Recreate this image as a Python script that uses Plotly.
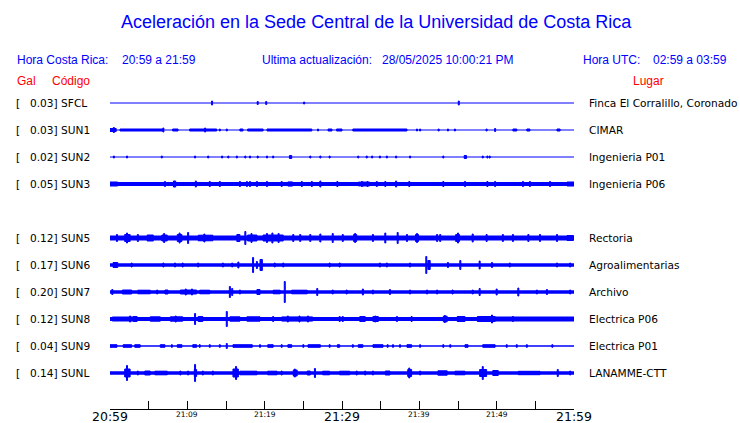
import plotly.graph_objects as go

# ---------------- data ----------------
TITLE = "Aceleración en la Sede Central de la Universidad de Costa Rica"
LOCAL_LABEL = "Hora Costa Rica:"
LOCAL_RANGE = "20:59 a 21:59"
UPDATE_LABEL = "Ultima actualización:"
UPDATE_VALUE = "28/05/2025 10:00:21 PM"
UTC_LABEL = "Hora UTC:"
UTC_RANGE = "02:59 a 03:59"

CODES = ["SFCL", "SUN1", "SUN2", "SUN3", "SUN5", "SUN6", "SUN7", "SUN8", "SUN9", "SUNL"]
PEAK_GAL = [0.03, 0.03, 0.02, 0.05, 0.12, 0.17, 0.20, 0.12, 0.04, 0.14]
PLACES = ["Finca El Corralillo, Coronado", "CIMAR", "Ingenieria P01", "Ingenieria P06",
          "Rectoria", "Agroalimentarias", "Archivo", "Electrica P06", "Electrica P01",
          "LANAMME-CTT"]
SLOTS = [0, 1, 2, 3, 5, 6, 7, 8, 9, 10]          # display row (row 4 is empty)
BASE_AMP = [0.5, 0.5, 0.5, 2.0, 2.5, 1.7, 1.7, 2.0, 0.7, 1.7]   # background noise level

TICK_MINUTES = [0, 5, 10, 15, 20, 25, 30, 35, 40, 45, 50, 55, 60]   # minutes after 20:59
MAJOR_LABELS = {0: "20:59", 30: "21:29", 60: "21:59"}
MINOR_LABELS = {10: "21:09", 20: "21:19", 40: "21:39", 50: "21:49"}

# bursts: (start minute, end minute, amplitude)
BURSTS_SFCL = [(13.2, 13.2, 2.5), (19.1, 19.1, 2), (20.2, 20.2, 2), (25.1, 25.1, 1.5), (45.1, 45.1, 2.5)]
BURSTS_SUN1 = [(0, 0.8, 2), (0.5, 0.5, 3), (1.3, 6.9, 1.5), (6.9, 6.9, 2.5), (8.1, 8.8, 1.5),
               (10.3, 13.8, 1.5), (12.3, 12.3, 2.5), (14.2, 14.2, 1.5), (15.1, 15.1, 1.5),
               (16.8, 17.2, 1.5), (17.8, 19.8, 1.5), (20.3, 26.1, 1.5), (26.9, 26.9, 1.5),
               (28.2, 28.7, 1.5), (29.3, 30.0, 1.5), (31.4, 38.4, 1.5), (39.7, 39.7, 1.5),
               (40.1, 40.1, 1.5), (42.5, 42.5, 1.5), (43.7, 43.7, 1.5), (44.6, 44.6, 1.5),
               (48.7, 48.7, 1.5), (49.8, 49.8, 2), (52.1, 52.6, 1.5), (53.9, 54.3, 1.5),
               (57.8, 58.2, 1.5)]
BURSTS_SUN2 = [(0.5, 0.5, 1.5), (2.2, 2.2, 1.5), (6.7, 6.7, 1.5), (11.0, 11.0, 1.5), (12.7, 12.7, 1.5),
               (14.5, 14.5, 1.5), (15.3, 15.3, 1.5), (16.4, 16.4, 1.5), (17.5, 17.5, 1.5),
               (18.1, 18.1, 1.5), (19.1, 19.1, 1.5), (20.3, 20.3, 1.5), (21.1, 21.1, 1.5),
               (23.2, 23.5, 2), (25.9, 25.9, 1.5), (27.2, 27.2, 1.5), (28.4, 28.4, 1.5),
               (32.1, 32.1, 1.5), (33.2, 33.2, 1.5), (33.9, 33.9, 1.5), (34.9, 34.9, 1.5),
               (35.8, 35.8, 1.5), (37.0, 37.0, 1.5), (38.8, 38.8, 1.5), (43.1, 43.1, 1.5),
               (45.8, 46.1, 2), (48.2, 48.2, 1.5), (48.8, 48.8, 1.5), (49.1, 49.1, 1.5)]
BURSTS_SUN3 = [(0, 1.0, 2.5), (7.1, 7.1, 3), (8.2, 8.5, 3.5), (11.1, 11.1, 3.5), (12.9, 12.9, 3),
               (14.2, 14.2, 3), (16.8, 16.8, 3), (17.7, 17.7, 3), (18.1, 18.1, 3), (19.0, 19.0, 3),
               (20.3, 20.3, 3), (22.2, 22.2, 3), (23.0, 23.6, 2.6), (24.8, 24.8, 3), (26.1, 26.1, 3),
               (27.2, 27.2, 3.5), (29.4, 29.4, 3), (32.1, 33.6, 2.4), (32.6, 32.6, 3), (33.3, 33.3, 3),
               (34.5, 34.5, 3), (35.6, 35.6, 3), (37.0, 37.0, 3.5), (38.7, 38.7, 3), (43.1, 43.1, 3),
               (45.9, 45.9, 3), (48.8, 48.8, 3), (49.8, 49.8, 3), (53.4, 53.4, 3), (54.3, 54.3, 3),
               (56.9, 56.9, 3), (59.1, 60, 2.5)]
BURSTS_SUN5 = [(0.9, 0.9, 4), (1.9, 2.6, 4), (2.2, 2.2, 5.5), (3.6, 3.6, 4), (4.8, 5.6, 3.5),
               (6.7, 7.4, 3.5), (7.0, 7.0, 5), (8.7, 9.3, 4), (9.0, 9.0, 5.5), (10.1, 10.1, 6),
               (11.4, 13.3, 3.3), (12.2, 12.2, 4.5), (16.4, 16.8, 4), (17.5, 17.5, 7),
               (17.8, 19.0, 3.5), (18.3, 18.3, 5), (19.8, 22.4, 3.5), (20.3, 20.3, 5),
               (21.0, 21.0, 5.5), (21.8, 21.8, 5), (23.7, 23.7, 4), (24.6, 24.6, 4), (25.9, 25.9, 4),
               (27.2, 27.2, 4.5), (28.8, 28.8, 5), (30.1, 30.1, 4), (31.5, 31.9, 4), (31.7, 31.7, 5),
               (34.0, 34.0, 4), (35.6, 35.6, 5.5), (37.2, 37.2, 6), (38.4, 38.4, 4), (39.5, 39.9, 4),
               (39.7, 39.7, 5), (42.3, 42.3, 4), (42.7, 42.7, 4), (44.7, 45.2, 4), (45.0, 45.0, 5.5),
               (46.9, 46.9, 4.5), (48.7, 48.7, 4), (50.8, 50.8, 4), (52.1, 52.1, 4), (54.1, 54.1, 4),
               (55.6, 55.6, 4), (57.8, 57.8, 4), (59.1, 59.9, 3)]
BURSTS_SUN6 = [(0.4, 1.0, 3), (2.8, 2.8, 2.5), (6.9, 6.9, 2.5), (8.4, 8.4, 2.5), (9.4, 9.4, 2.5),
               (11.4, 11.4, 2.5), (14.6, 14.6, 2.5), (15.8, 15.8, 2.5), (16.6, 16.6, 3.5),
               (18.5, 18.5, 8), (19.0, 19.0, 4), (19.4, 19.7, 6), (21.3, 21.3, 2.5), (22.4, 22.4, 2.5),
               (28.4, 28.4, 2.5), (29.7, 29.7, 2.5), (34.9, 34.9, 2.5), (35.8, 35.8, 2.5),
               (38.8, 38.8, 2.5), (40.9, 40.9, 9), (41.1, 41.4, 5), (43.7, 43.7, 3), (45.3, 45.3, 5),
               (47.8, 47.8, 4.5), (49.4, 49.4, 3), (51.7, 51.7, 2.5), (57.8, 57.8, 2.5),
               (59.5, 59.5, 2.5)]
BURSTS_SUN7 = [(0.3, 0.3, 3), (1.6, 2.8, 2.5), (3.6, 5.2, 2.3), (6.1, 6.1, 2.5), (7.1, 7.5, 2.5),
               (9.1, 11.2, 2.5), (9.8, 9.8, 3.5), (10.6, 10.6, 3.5), (11.6, 12.9, 2.3),
               (15.5, 15.5, 6), (15.8, 15.8, 4), (16.8, 16.8, 2.5), (19.0, 19.4, 3), (21.1, 22.0, 2.3),
               (22.6, 22.6, 11), (23.5, 25.5, 2.3), (26.8, 26.8, 4), (28.8, 28.8, 2.5),
               (30.6, 30.6, 2.5), (32.7, 32.7, 3.5), (34.0, 34.0, 2.5), (36.2, 36.2, 3),
               (38.8, 38.8, 2.5), (41.0, 41.0, 2.5), (42.3, 42.3, 2.5), (44.3, 44.3, 2.5),
               (46.9, 46.9, 2.5), (47.8, 47.8, 4), (50.0, 50.0, 3.5), (52.8, 52.8, 4.5),
               (55.2, 55.2, 2.5), (56.5, 56.5, 3), (59.5, 59.5, 2.5)]
BURSTS_SUN8 = [(0.3, 3.0, 2.5), (2.6, 2.6, 3.5), (3.0, 3.5, 3), (5.2, 6.5, 2.7), (7.8, 9.4, 2.7),
               (8.5, 8.5, 3.5), (11.0, 11.0, 6), (11.4, 12.0, 3), (15.1, 15.1, 8), (15.5, 16.8, 2.7),
               (17.7, 19.4, 2.7), (21.1, 21.1, 3), (22.2, 26.2, 2.6), (23.0, 23.0, 3.5),
               (24.5, 24.5, 3.5), (25.6, 25.6, 3.5), (29.7, 29.7, 3), (30.1, 30.1, 3),
               (32.3, 33.0, 3), (34.0, 34.7, 3), (34.3, 34.3, 3.5), (37.1, 37.1, 3), (39.0, 39.0, 3),
               (43.1, 43.6, 3.3), (43.3, 43.3, 4), (44.9, 45.9, 3), (47.5, 49.8, 3),
               (49.4, 49.4, 4.5), (49.5, 60.0, 2.5), (52.1, 52.1, 3)]
BURSTS_SUN9 = [(0, 0.9, 1.8), (1.7, 2.8, 1.8), (3.2, 3.9, 1.8), (6.5, 7.1, 1.8), (8.0, 8.0, 1.8),
               (8.7, 9.3, 1.8), (10.7, 11.2, 1.8), (11.6, 11.6, 1.8), (12.9, 12.9, 1.8),
               (14.2, 14.2, 1.8), (15.1, 15.1, 3), (15.9, 18.4, 1.8), (19.4, 19.4, 1.8),
               (20.4, 21.1, 1.8), (22.2, 22.2, 1.8), (23.0, 23.5, 1.8), (25.0, 25.0, 1.8),
               (25.6, 27.2, 1.8), (28.4, 28.4, 1.8), (29.4, 29.7, 1.8), (31.4, 31.4, 1.8),
               (32.1, 32.7, 1.8), (34.0, 35.3, 1.8), (35.9, 35.9, 1.8), (36.6, 36.6, 1.8),
               (37.5, 37.5, 1.8), (38.4, 39.0, 1.8), (40.1, 40.1, 1.8), (43.1, 43.1, 1.8),
               (44.0, 44.0, 1.8), (45.9, 46.3, 1.8), (48.2, 49.8, 1.8), (51.3, 51.3, 1.8),
               (52.6, 52.6, 1.8), (53.9, 53.9, 1.8), (57.2, 57.2, 1.8)]
BURSTS_SUNL = [(1.9, 2.6, 4.5), (2.2, 2.2, 8), (3.6, 3.6, 2.5), (4.5, 5.2, 2.5), (5.8, 7.4, 2.3),
               (9.1, 9.1, 2.5), (10.1, 10.1, 2.5), (11.0, 11.0, 9), (10.9, 11.2, 4), (12.0, 12.0, 2.5),
               (13.3, 13.3, 2.5), (15.9, 16.6, 4.5), (16.3, 16.3, 7), (16.8, 19.0, 2.3),
               (20.4, 21.6, 2.3), (22.2, 22.2, 2.5), (23.7, 24.2, 3.5), (23.9, 23.9, 4.5),
               (25.5, 25.9, 2.5), (26.5, 26.5, 5), (27.5, 28.4, 2.3), (29.7, 31.0, 2.3),
               (31.9, 31.9, 2.5), (33.0, 33.0, 2.5), (34.0, 34.0, 2.5), (35.6, 36.2, 2.5),
               (38.5, 39.0, 4), (38.7, 38.7, 5.5), (40.1, 40.1, 2.5), (42.4, 43.6, 2.7),
               (44.6, 45.9, 2.3), (47.8, 48.7, 4), (48.2, 48.2, 7), (49.5, 50.2, 3),
               (52.8, 55.6, 2.2), (57.9, 57.9, 4), (59.5, 59.5, 2.5)]

BURSTS = [BURSTS_SFCL, BURSTS_SUN1, BURSTS_SUN2, BURSTS_SUN3, BURSTS_SUN5, BURSTS_SUN6,
          BURSTS_SUN7, BURSTS_SUN8, BURSTS_SUN9, BURSTS_SUNL]

# ---------------- layout constants ----------------
W, H = 740, 423
L, R, T, B = 110, 574, 90, 409          # plot area in pixels
ROW0, ROW_STEP = 13, 27                 # pixels within plot area
BLUE = "#0000FF"
RED = "#FF0000"
HEAD_FONT = "Liberation Sans, Arial, Helvetica, sans-serif"
BODY_FONT = "DejaVu Sans, Verdana, sans-serif"
PX_PER_MIN = (R - L) / 60.0


def px(xp):
    return (xp - L) / (R - L)


def py(yp):
    return (B - yp) / (B - T)


fig = go.Figure()

for i, code in enumerate(CODES):
    yc = ROW0 + ROW_STEP * SLOTS[i]
    # continuous background band
    fig.add_trace(go.Scatter(x=[0, 60], y=[yc, yc], mode="lines",
                             line=dict(color=BLUE, width=max(1.0, 2 * BASE_AMP[i])),
                             hoverinfo="skip", showlegend=False))
    xs, ys = [], []
    for (t0, t1, a) in BURSTS[i]:
        if t1 - t0 < 1.0 / PX_PER_MIN:
            c = (t0 + t1) / 2
            t0, t1 = c - 0.5 / PX_PER_MIN, c + 0.5 / PX_PER_MIN
        h = max(a - 0.5, 0.3)
        xs += [t0, t1, t1, t0, t0, None]
        ys += [yc - h, yc - h, yc + h, yc + h, yc - h, None]
    fig.add_trace(go.Scatter(x=xs, y=ys, mode="lines", fill="toself", fillcolor=BLUE,
                             line=dict(color=BLUE, width=1), hoverinfo="skip",
                             showlegend=False))

annotations = []


def txt(text, xp, yp, size, color, font, xanchor="left", xref="paper", yref="paper", xv=None, yv=None):
    annotations.append(dict(
        text=text, x=xv if xv is not None else px(xp), y=yv if yv is not None else py(yp),
        xref=xref, yref=yref, xanchor=xanchor, yanchor="middle", showarrow=False,
        font=dict(size=size, color=color, family=font)))


txt(TITLE, 376.5, 22, 18, BLUE, HEAD_FONT, xanchor="center")
txt(LOCAL_LABEL, 15, 60, 12, BLUE, HEAD_FONT)
txt(LOCAL_RANGE, 120, 60, 12, BLUE, HEAD_FONT)
txt(UPDATE_LABEL, 260, 60, 12, BLUE, HEAD_FONT)
txt(UPDATE_VALUE, 380, 60, 12, BLUE, HEAD_FONT)
txt(UTC_LABEL, 580.5, 60, 12, BLUE, HEAD_FONT)
txt(UTC_RANGE, 650.5, 60, 12, BLUE, HEAD_FONT)
txt("Gal", 15, 81, 12, RED, HEAD_FONT)
txt("Código", 50, 81, 12, RED, HEAD_FONT)
txt("Lugar", 630.5, 81, 12, RED, HEAD_FONT)

for i, code in enumerate(CODES):
    yc = ROW0 + ROW_STEP * SLOTS[i]
    txt("[", 14, 0, 10.6, "black", BODY_FONT, yref="y", yv=yc)
    txt(f"{PEAK_GAL[i]:.2f}] {code}", 27.5, 0, 10.6, "black", BODY_FONT, yref="y", yv=yc)
    txt(PLACES[i], 587, 0, 10.6, "black", BODY_FONT, yref="y", yv=yc)

for m, lab in MAJOR_LABELS.items():
    txt(lab, 0, 416, 12.5, "black", BODY_FONT, xanchor="center", xref="x", xv=m)
for m, lab in MINOR_LABELS.items():
    txt(lab, 0, 414.5, 7.5, "black", BODY_FONT, xanchor="center", xref="x", xv=m)

fig.update_layout(
    width=W, height=H,
    margin=dict(l=L, r=W - R, t=T, b=H - B, pad=0),
    paper_bgcolor="white", plot_bgcolor="white",
    showlegend=False,
    annotations=annotations,
    xaxis=dict(range=[0, 60], tickvals=TICK_MINUTES, ticks="inside", ticklen=8,
               tickwidth=1, tickcolor="black", showline=True, linecolor="black",
               linewidth=1, showticklabels=False, showgrid=False, zeroline=False,
               fixedrange=True),
    yaxis=dict(range=[B - T, 0], visible=False, showgrid=False, zeroline=False,
               fixedrange=True),
)

fig.write_html("out.html", config={"displayModeBar": False},
               post_script="document.body.style.margin='0';document.body.style.overflow='hidden';")
